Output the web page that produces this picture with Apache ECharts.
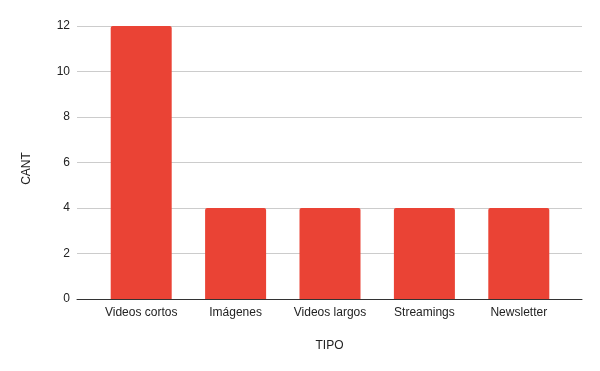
<!DOCTYPE html>
<html>
<head>
<meta charset="utf-8">
<script src="https://cdn.jsdelivr.net/npm/echarts@6/dist/echarts.min.js"></script>
<style>html,body{margin:0;padding:0;background:#fff}#c{width:600px;height:371px}</style>
</head>
<body>
<div id="c"></div>
<script>
var categories = ['Videos cortos', 'Imágenes', 'Videos largos', 'Streamings', 'Newsletter'];
var values = [12, 4, 4, 4, 4];
var yTicks = [0, 2, 4, 6, 8, 10, 12];
var xTitle = 'TIPO';
var yTitle = 'CANT';

var font = 'Liberation Sans, Arial, sans-serif';
var chart = echarts.init(document.getElementById('c'));
chart.setOption({
  animation: false,
  textStyle: { fontFamily: font },
  grid: [
    { left: 77, right: 18, top: 26, bottom: 72 },
    { left: 94, right: 34, top: 26, bottom: 72 }
  ],
  xAxis: [
    {
      gridIndex: 0, type: 'value', min: 0, max: 1,
      axisLine: { show: true, lineStyle: { color: '#333', width: 1 } },
      axisTick: { show: false }, axisLabel: { show: false }, splitLine: { show: false },
      name: xTitle, nameLocation: 'middle', nameGap: 41,
      nameTextStyle: { fontFamily: font, fontSize: 12, color: '#222' },
      z: 5
    },
    {
      gridIndex: 1, type: 'category', data: categories,
      axisLine: { show: false }, axisTick: { show: false },
      axisLabel: { fontFamily: font, fontSize: 12, color: '#222', margin: 8, interval: 0 }
    }
  ],
  yAxis: [
    {
      gridIndex: 0, type: 'value', min: yTicks[0], max: yTicks[yTicks.length - 1], interval: 2,
      axisLine: { show: false }, axisTick: { show: false },
      axisLabel: { fontFamily: font, fontSize: 12, color: '#222', margin: 7 },
      splitLine: { show: true, lineStyle: { color: '#cccccc', width: 1 } },
      name: yTitle, nameLocation: 'middle', nameGap: 44, nameRotate: 90,
      nameTextStyle: { fontFamily: font, fontSize: 12, color: '#222', padding: [0, 12, 0, 0] }
    },
    {
      gridIndex: 1, type: 'value', min: yTicks[0], max: yTicks[yTicks.length - 1], interval: 2,
      show: false
    }
  ],
  series: [
    {
      type: 'bar', xAxisIndex: 1, yAxisIndex: 1, data: values,
      barWidth: 61,
      itemStyle: { color: '#EA4335', borderRadius: [2, 2, 0, 0] },
      z: 3
    }
  ]
});
</script>
</body>
</html>
